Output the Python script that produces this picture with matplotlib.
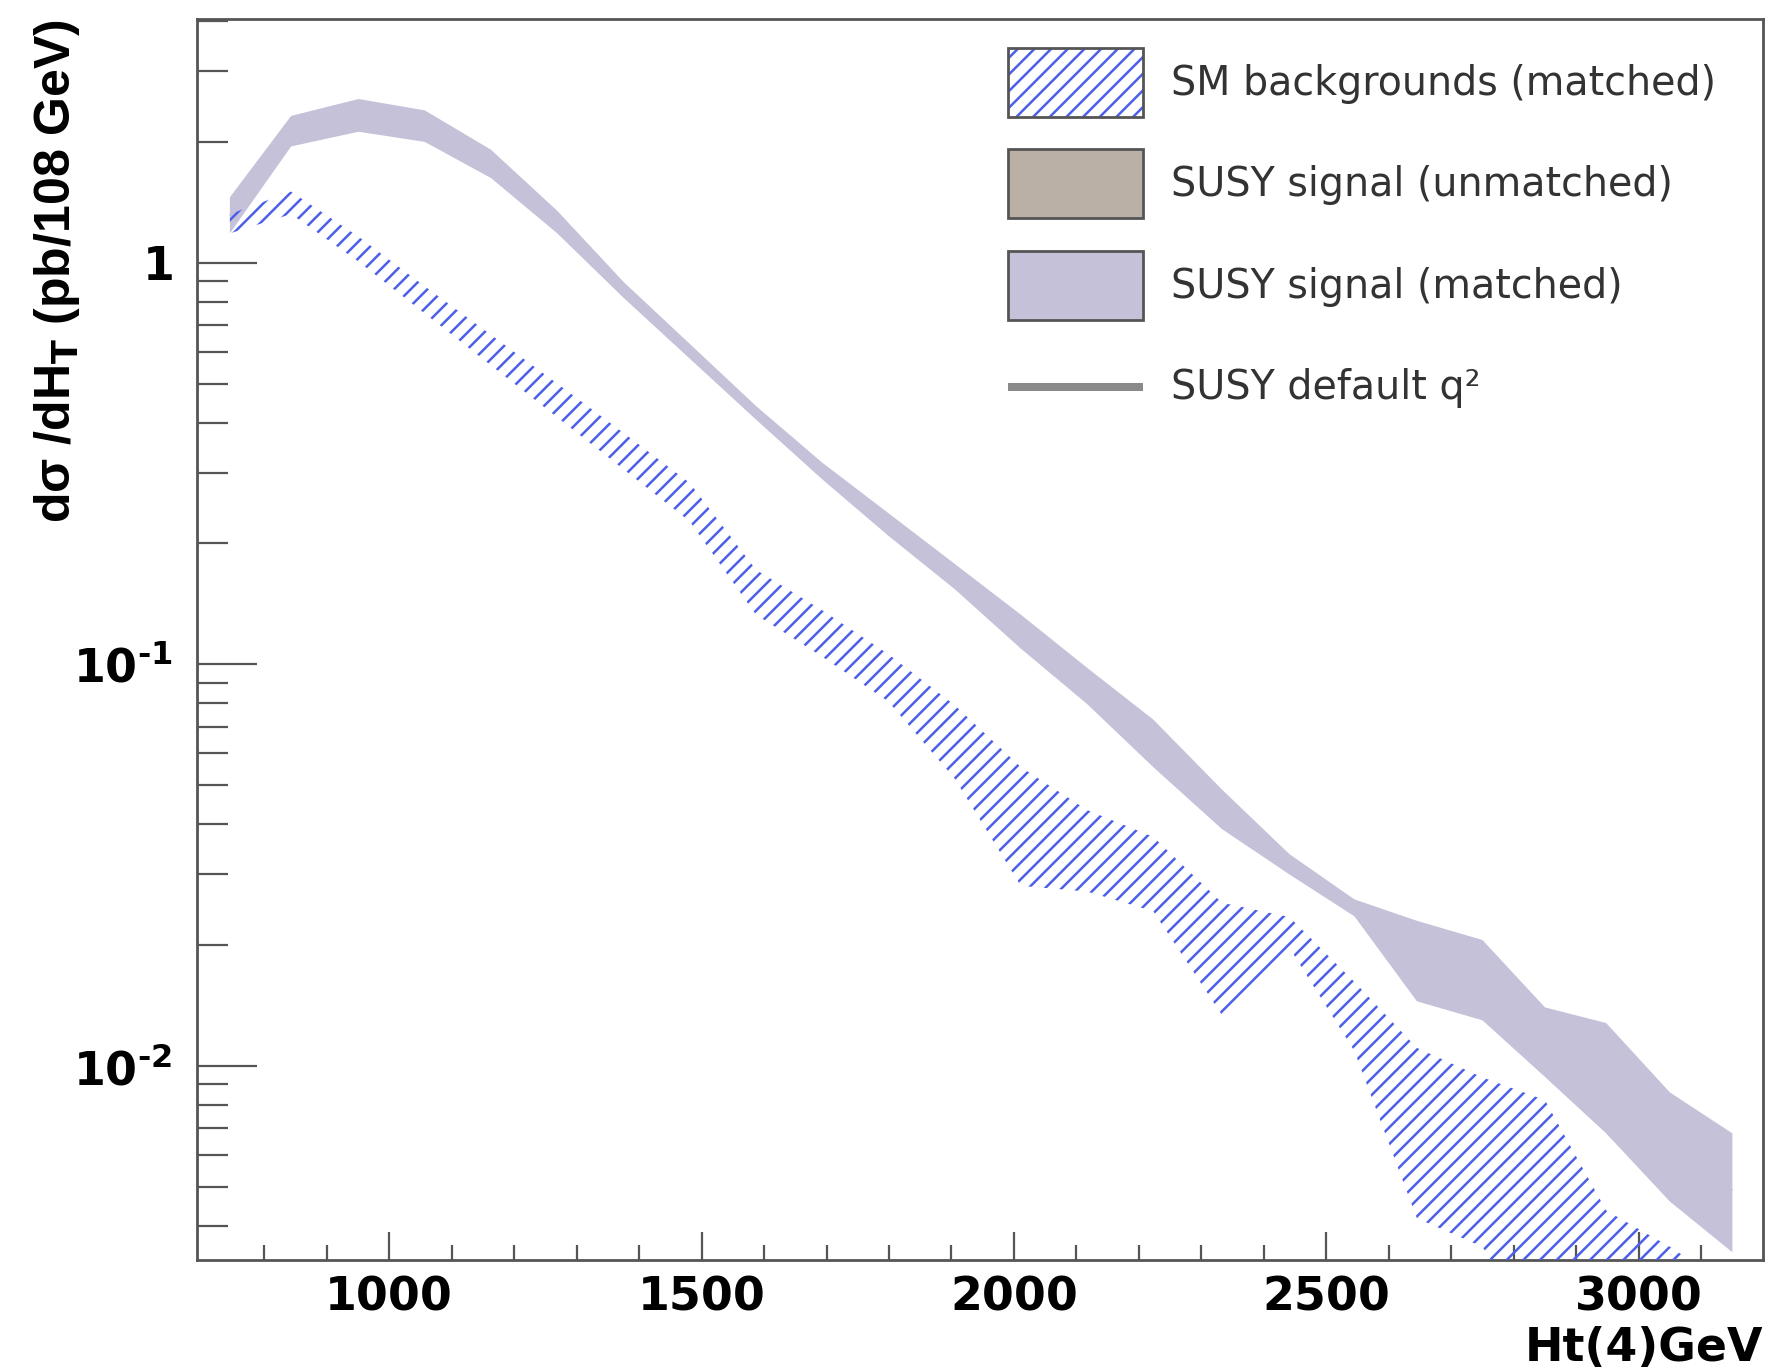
import matplotlib
matplotlib.use("Agg")
import matplotlib.pyplot as plt
from matplotlib.patches import Patch, Rectangle
from matplotlib.legend_handler import HandlerTuple, HandlerPatch
from matplotlib.ticker import LogLocator, MultipleLocator, FixedLocator, NullFormatter

plt.rcParams['font.family'] = ['DejaVu Sans']
plt.rcParams['mathtext.fontset'] = 'dejavusans'
plt.rcParams['hatch.linewidth'] = 1.8

# Ht(4) points (GeV)
ht = [745, 843, 951, 1057, 1163, 1269, 1375, 1481, 1587, 1693, 1799, 1905,
      2011, 2117, 2223, 2333, 2441, 2545, 2645, 2750, 2850, 2948, 3050, 3150]

# SUSY signal (matched) band, pb/108 GeV
susy_hi = [1.455, 2.319, 2.555, 2.394, 1.910, 1.346, 0.896, 0.628, 0.440, 0.318, 0.238, 0.178,
           0.133, 0.0981, 0.0729, 0.0488, 0.0337, 0.0260, 0.0230, 0.0206, 0.0140, 0.0128, 0.0086, 0.0068]
susy_lo = [1.183, 1.947, 2.118, 1.998, 1.624, 1.183, 0.818, 0.577, 0.407, 0.289, 0.209, 0.154,
           0.1095, 0.0797, 0.0555, 0.0389, 0.0300, 0.0236, 0.0145, 0.0130, 0.0094, 0.0068, 0.0046, 0.00344]
# SUSY default q^2 (central curve, hidden under the band)
susy_def = [1.31, 2.12, 2.33, 2.19, 1.76, 1.26, 0.856, 0.602, 0.423, 0.303, 0.223, 0.166,
            0.121, 0.088, 0.064, 0.0436, 0.0318, 0.0248, 0.0183, 0.0164, 0.0115, 0.0093, 0.0063, 0.0049]

# SM backgrounds (matched) band
sm_hi = [1.321, 1.503, 1.160, 0.873, 0.661, 0.500, 0.377, 0.283, 0.172, 0.1364, 0.1060, 0.0792,
         0.0555, 0.0434, 0.0372, 0.0255, 0.0235, 0.0162, 0.0111, 0.00937, 0.00823, 0.00437, 0.00355, 0.0028]
sm_lo = [1.183, 1.321, 1.006, 0.747, 0.555, 0.412, 0.306, 0.227, 0.133, 0.1046, 0.0808, 0.0520,
         0.0281, 0.0272, 0.0243, 0.0134, 0.0197, 0.0109, 0.00418, 0.00355, 0.002, 0.002, 0.002, 0.002]

labels = ["SM backgrounds (matched)", "SUSY signal (unmatched)",
          "SUSY signal (matched)", "SUSY default q²"]
ytick_vals = [0.01, 0.1, 1]
ytick_labels = [r'$\mathbf{10^{‐2}}$', r'$\mathbf{10^{‐1}}$', r'$\mathbf{1}$']
xminor = list(range(800, 3200, 100))

purple = '#c4c1d8'
brown = '#bbb0a5'
blue = '#4c5fe8'
axcol = '#555555'

fig = plt.figure(figsize=(17.69, 13.72), dpi=100)
ax = fig.add_axes([0.1116, 0.0816, 0.885, 0.9045])

ax.plot(ht, susy_def, color='#b8b5cc', lw=1.5, solid_capstyle='butt', zorder=1)
ax.fill_between(ht, susy_lo, susy_hi, facecolor=purple, edgecolor='none', lw=0, zorder=2)
ax.fill_between(ht, sm_lo, sm_hi, facecolor='none', edgecolor=blue, hatch='//', lw=0, zorder=3)

ax.set_yscale('log')
ax.set_xlim(693, 3199)
ax.set_ylim(0.00329, 4.04)

ax.xaxis.set_major_locator(MultipleLocator(500))
ax.xaxis.set_minor_locator(FixedLocator(xminor))
ax.yaxis.set_major_locator(FixedLocator(ytick_vals))
ax.yaxis.set_minor_locator(LogLocator(base=10, subs=range(2, 10)))
ax.yaxis.set_minor_formatter(NullFormatter())
ax.set_yticklabels(ytick_labels)

ax.tick_params(axis='both', which='both', direction='in', colors=axcol,
               labelcolor='black', top=False, right=False, width=1.6)
ax.tick_params(axis='y', which='major', length=43, pad=18, labelsize=33)
ax.tick_params(axis='y', which='minor', length=22)
ax.tick_params(axis='x', which='major', length=20, pad=11, labelsize=33)
ax.tick_params(axis='x', which='minor', length=11)
for lab in ax.get_xticklabels():
    lab.set_fontweight('bold')

for sp in ax.spines.values():
    sp.set_color(axcol)
    sp.set_linewidth(2)

ax.set_ylabel('dσ /dH$_{\\mathbf{T}}$ (pb/108 GeV)', fontsize=36, fontweight='bold', loc='top',
              family=['Liberation Sans', 'DejaVu Sans'])
ax.yaxis.set_label_coords(-0.074, 1.0)
ax.set_xlabel('Ht(4)GeV', fontsize=33, fontweight='bold', loc='right')
ax.xaxis.set_label_coords(1.0, -0.053)
ax.xaxis.label.set_va('top')


def line_box(legend, orig_handle, xdescent, ydescent, width, height, fontsize):
    # thick grey bar centred in the handle box, like the other entries
    return Rectangle((-xdescent, -ydescent + height / 2 - 3), width, 6)


h_sm = (Patch(facecolor='white', edgecolor=blue, hatch='//', lw=0),
        Patch(facecolor='none', edgecolor='#555555', lw=2))
h_unm = Patch(facecolor=brown, edgecolor='#555555', lw=2)
h_mat = Patch(facecolor=purple, edgecolor='#555555', lw=2)
h_def = Patch(facecolor='#8a8a8a', edgecolor='none', lw=0)
leg = fig.legend([h_sm, h_unm, h_mat, h_def], labels,
                 handler_map={tuple: HandlerTuple(ndivide=1),
                              h_def: HandlerPatch(patch_func=line_box)},
                 loc='upper left', bbox_to_anchor=(1008 / 1769, 1 - 48 / 1372),
                 frameon=False, fontsize=28.5, borderpad=0, borderaxespad=0,
                 handlelength=3.42, handleheight=2.29, labelspacing=0.83, handletextpad=0.71)
for t in leg.get_texts():
    t.set_color('#333333')

fig.savefig('out.png', dpi=100)
